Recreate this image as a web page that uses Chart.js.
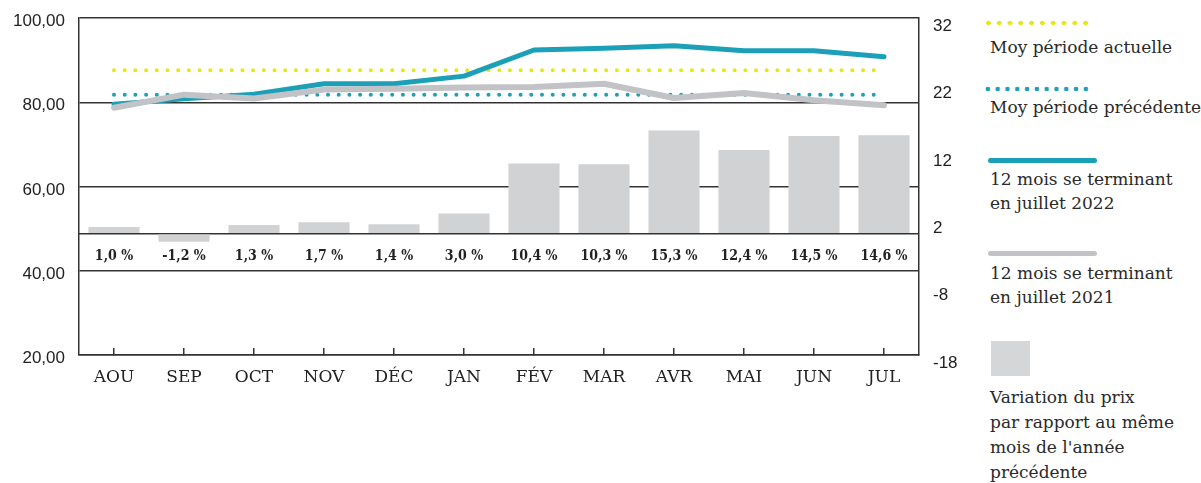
<!DOCTYPE html>
<html>
<head>
<meta charset="utf-8">
<script src="https://cdn.jsdelivr.net/npm/chart.js@4.4.0/dist/chart.umd.min.js"></script>
<style>
    body { margin: 0; background: #fff; width: 1201px; height: 483px; overflow: hidden; position: relative; }
    #wrap { position: absolute; left: 0; top: 0; width: 969px; height: 483px; }
    .lg { position: absolute; left: 990px; font-family: "DejaVu Serif", serif; font-size: 17px; line-height: 24px; color: #2a2a2a; white-space: nowrap; }
    .dots { position: absolute; height: 6px; }
    .bar { position: absolute; left: 988px; width: 109px; height: 5px; border-radius: 3px; }
</style>
</head>
<body>
<div id="wrap"><canvas id="chart" width="969" height="483"></canvas></div>

<div class="dots" style="left:983px; top:20px; width:108px; background: radial-gradient(circle, #e6e619 2px, rgba(255,255,255,0) 2.6px) 0 0 / 10.8px 6px repeat-x;"></div>
<div class="lg" style="top:35px;">Moy période actuelle</div>

<div class="dots" style="left:983px; top:86px; width:108px; background: radial-gradient(circle, #1ca0b8 2px, rgba(255,255,255,0) 2.6px) 0 0 / 9.8px 6px repeat-x;"></div>
<div class="lg" style="top:95px;">Moy période précédente</div>

<div class="bar" style="top:158px; background:#1ca0b8;"></div>
<div class="lg" style="top:167px;">12 mois se terminant<br>en juillet 2022</div>

<div class="bar" style="top:251px; background:#c2c3c6;"></div>
<div class="lg" style="top:261px;">12 mois se terminant<br>en juillet 2021</div>

<div style="position:absolute; left:991px; top:341px; width:39px; height:35px; background:#d5d6d8;"></div>
<div class="lg" style="top:385px; line-height:25px;">Variation du prix<br>par rapport au même<br>mois de l'année<br>précédente</div>

<script>
const months = ['AOU', 'SEP', 'OCT', 'NOV', 'DÉC', 'JAN', 'FÉV', 'MAR', 'AVR', 'MAI', 'JUN', 'JUL'];
const prix2022 = [79.5, 80.8, 81.9, 84.4, 84.4, 86.2, 92.4, 92.8, 93.4, 92.2, 92.2, 90.8];
const prix2021 = [78.7, 81.8, 80.9, 83.0, 83.2, 83.5, 83.6, 84.4, 81.0, 82.2, 80.5, 79.3];
const moyActuelle = [87.6, 87.6, 87.6, 87.6, 87.6, 87.6, 87.6, 87.6, 87.6, 87.6, 87.6, 87.6];
const moyPrecedente = [81.8, 81.8, 81.8, 81.8, 81.8, 81.8, 81.8, 81.8, 81.8, 81.8, 81.8, 81.8];
const variation = [1.0, -1.2, 1.3, 1.7, 1.4, 3.0, 10.4, 10.3, 15.3, 12.4, 14.5, 14.6];
const leftTicks = [20, 40, 60, 80, 100];
const rightTicks = [-18, -8, 0, 2, 12, 22, 32];

const dark = '#333';

// value labels under the zero line
const barLabels = {
    id: 'barLabels',
    afterDatasetsDraw(chart) {
        const ctx = chart.ctx;
        const x = chart.scales.x;
        const y0 = chart.scales.y1.getPixelForValue(0) + 23;
        ctx.save();
        ctx.font = 'bold 14px "DejaVu Serif Condensed", "DejaVu Serif", serif';
        ctx.fillStyle = '#222';
        ctx.textAlign = 'center';
        ctx.textBaseline = 'middle';
        variation.forEach((v, i) => {
            ctx.fillText(v.toFixed(1).replace('.', ',') + ' %', x.getPixelForValue(i), y0);
        });
        ctx.restore();
    }
};

const data = {
    labels: months,
    datasets: [{
        type: 'line',
        label: 'Moy période actuelle',
        data: moyActuelle,
        yAxisID: 'y',
        borderColor: '#e6e619',
        borderWidth: 4,
        borderDash: [0, 10.7],
        borderCapStyle: 'round',
        pointRadius: 0,
        order: 3
    }, {
        type: 'line',
        label: 'Moy période précédente',
        data: moyPrecedente,
        yAxisID: 'y',
        borderColor: '#1ca0b8',
        borderWidth: 4,
        borderDash: [0, 10.7],
        borderCapStyle: 'round',
        pointRadius: 0,
        order: 2
    }, {
        type: 'line',
        label: '12 mois se terminant en juillet 2022',
        data: prix2022,
        yAxisID: 'y',
        borderColor: '#1ca0b8',
        borderWidth: 5,
        borderCapStyle: 'round',
        borderJoinStyle: 'round',
        pointRadius: 0,
        tension: 0,
        order: 1
    }, {
        type: 'line',
        label: '12 mois se terminant en juillet 2021',
        data: prix2021,
        yAxisID: 'y',
        borderColor: '#c2c3c6',
        borderWidth: 6,
        borderCapStyle: 'round',
        borderJoinStyle: 'round',
        pointRadius: 0,
        tension: 0,
        order: 0
    }, {
        type: 'bar',
        label: "Variation du prix par rapport au même mois de l'année précédente",
        data: variation,
        yAxisID: 'y1',
        backgroundColor: '#d1d2d4',
        barPercentage: 0.73,
        categoryPercentage: 1,
        order: 10
    }]
};

const config = {
    data: data,
    plugins: [barLabels],
    options: {
        responsive: false,
        animation: false,
        layout: { padding: { top: 18, left: 0, right: 0, bottom: 0 } },
        scales: {
            x: {
                offset: true,
                afterFit: function (scale) { scale.height = 128; },
                grid: {
                    offset: false,
                    drawOnChartArea: false,
                    tickLength: -7,
                    color: dark,
                    lineWidth: 1.5
                },
                border: { color: dark, width: 1.5 },
                ticks: {
                    autoSkip: false,
                    maxRotation: 0,
                    padding: 19,
                    color: '#222',
                    font: { family: '"DejaVu Serif", serif', size: 17 }
                }
            },
            y: {
                position: 'left',
                min: 20,
                max: 100,
                afterFit: function (scale) {
                    scale.width = 79;
                    scale.paddingTop = 0;
                    scale.paddingBottom = 0;
                },
                afterBuildTicks: function (scale) {
                    scale.ticks = leftTicks.map(v => ({ value: v }));
                },
                grid: { color: dark, lineWidth: 1.5, drawTicks: false },
                border: { color: dark, width: 1.5 },
                ticks: {
                    padding: 14,
                    color: '#222',
                    font: { family: '"Liberation Sans", Arial, sans-serif', size: 17, lineHeight: 0.4 },
                    callback: function (value) {
                        return ['', value.toFixed(2).replace('.', ',')];
                    }
                }
            },
            y1: {
                position: 'right',
                min: -18,
                max: 32,
                afterFit: function (scale) {
                    scale.width = 50;
                    scale.paddingTop = 0;
                    scale.paddingBottom = 0;
                },
                afterBuildTicks: function (scale) {
                    scale.ticks = rightTicks.map(v => ({ value: v }));
                },
                grid: {
                    drawTicks: false,
                    lineWidth: 1.5,
                    color: function (ctx) {
                        return ctx.tick && ctx.tick.value === 0 ? dark : 'rgba(0,0,0,0)';
                    }
                },
                border: { color: dark, width: 1.5 },
                ticks: {
                    padding: 14,
                    color: '#222',
                    font: { family: '"Liberation Sans", Arial, sans-serif', size: 17, lineHeight: 0.95 },
                    callback: function (value) {
                        return value === 0 ? '' : ['', String(value)];
                    }
                }
            }
        },
        plugins: {
            legend: { display: false },
            tooltip: { enabled: false }
        }
    }
};

const chart = new Chart(document.getElementById('chart'), config);
</script>
</body>
</html>
